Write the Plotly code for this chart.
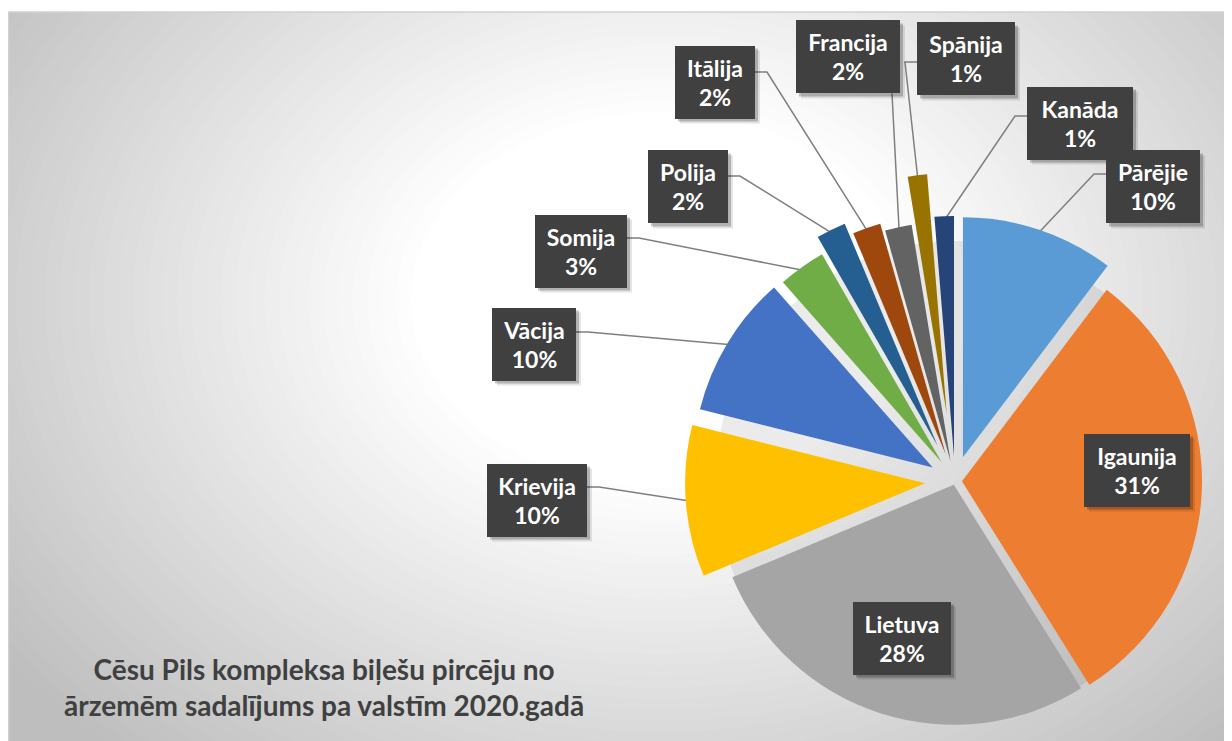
import math
import plotly.graph_objects as go

W, H = 1232, 741
# the page puts the figure 8px in from the top-left corner
OFF = 8

countries = ["Pārējie", "Igaunija", "Lietuva", "Krievija", "Vācija", "Somija",
             "Polija", "Itālija", "Francija", "Spānija", "Kanāda"]
# shares in % (labels show them rounded)
shares = [10.3, 30.8, 27.6, 10.2, 9.6, 3.2, 2.0, 1.9, 1.8, 1.3, 1.3]
colors = ["#5B9BD5", "#ED7D31", "#A5A5A5", "#FFC000", "#4472C4", "#70AD47",
          "#255E91", "#9E480E", "#636363", "#997300", "#264478"]

# how far each slice is pulled out of the pie (px)
explode_px = [25, 7, 4, 30, 26, 23, 40, 28, 20, 68, 25]

title = "Cēsu Pils kompleksa biļešu pircēju no<br>ārzemēm sadalījums pa valstīm 2020.gadā"

# pie centre / radius in screen px
CX, CY, R = 955, 481, 240

# label boxes: centre x, centre y, width, side of leader line, y of leader line
label_boxes = {
    "Pārējie": (1153, 187, 94, "left", 174),
    "Kanāda": (1080, 123, 106, "left", 116),
    "Spānija": (966, 59, 98, "left", 62),
    "Francija": (848, 57, 104, "bottom", None),
    "Itālija": (715, 82, 80, "right", 72),
    "Polija": (688, 187, 80, "right", 176),
    "Somija": (581, 251, 92, "right", 238),
    "Vācija": (534, 344, 84, "right", 332),
    "Krievija": (537, 500, 100, "right", 487),
    "Igaunija": (1137, 470, 106, None, None),
    "Lietuva": (902, 638, 98, None, None),
}
BOX_H = 73
FONT = "Lato, 'Open Sans', sans-serif"


def px(x, y):
    return (x - OFF) / W, 1 - (y - OFF) / H


def domain_at(cx, cy):
    x0, y1 = px(cx - R, cy - R)
    x1, y0 = px(cx + R, cy + R)
    return dict(x=[x0, x1], y=[y0, y1])


n = len(shares)
total = sum(shares)
mids = []
acc = 0
for v in shares:
    mids.append((acc + v / 2) / total * 2 * math.pi)
    acc += v

fig = go.Figure()

# faint shadow of the whole pie (shows in the gaps)
fig.add_trace(go.Pie(
    values=shares, labels=countries, sort=False, direction="clockwise",
    marker=dict(colors=["rgba(0,0,0,0.08)"] * n, line=dict(width=0)),
    textinfo="none", hoverinfo="skip", showlegend=False,
    domain=domain_at(CX, CY),
))

# one trace per slice so every slice can be pulled out on its own
for i in range(n):
    dx = explode_px[i] * math.sin(mids[i])
    dy = -explode_px[i] * math.cos(mids[i])
    cols = [colors[i] if j == i else "rgba(0,0,0,0)" for j in range(n)]
    fig.add_trace(go.Pie(
        values=shares, labels=countries, sort=False, direction="clockwise",
        marker=dict(colors=cols, line=dict(width=0)),
        textinfo="none", hoverinfo="skip", showlegend=False,
        domain=domain_at(CX + dx, CY + dy),
    ))

shapes = []

# radial gradient background
GX, GY, AX, AY = 660, 300, 820, 620
steps = 70
for k in range(steps, 0, -1):
    t = 1.25 * k / steps
    v = 255 if t <= 0.3 else max(190, 255 - 56 * (t - 0.3) / 0.6)
    v = int(round(v))
    x0, y0 = px(GX - t * AX, GY + t * AY)
    x1, y1 = px(GX + t * AX, GY - t * AY)
    shapes.append(dict(type="circle", xref="paper", yref="paper", x0=x0, x1=x1, y0=y0, y1=y1,
                       fillcolor=f"rgb({v},{v},{v})", line=dict(width=0), layer="below"))

# white strip above the chart area + border
top = px(0, 12)[1]
shapes.append(dict(type="rect", xref="paper", yref="paper", x0=0, x1=1, y0=top, y1=1,
                   fillcolor="white", line=dict(width=0), layer="below"))
shapes.append(dict(type="line", xref="paper", yref="paper", x0=0, x1=1, y0=top, y1=top,
                   line=dict(color="#d0d0d0", width=1.5), layer="below"))
shapes.append(dict(type="line", xref="paper", yref="paper", x0=0.0005, x1=0.0005, y0=0, y1=top,
                   line=dict(color="#d0d0d0", width=1.5), layer="below"))

annotations = []
for i, name in enumerate(countries):
    bx, by, bw, side, ay = label_boxes[name]
    pr = explode_px[i] + R - 4
    ex = CX + pr * math.sin(mids[i])
    ey = CY - pr * math.cos(mids[i])
    if side is not None:
        if side == "left":
            a = (bx - bw / 2, ay)
            e = (a[0] - 12, ay)
        elif side == "right":
            a = (bx + bw / 2, ay)
            e = (a[0] + 12, ay)
        else:
            a = (min(ex, bx + bw / 2 - 8), by + BOX_H / 2)
            e = a
        pts = [px(*a), px(*e), px(ex, ey)]
        path = "M " + " L ".join(f"{p[0]},{p[1]}" for p in pts)
        shapes.append(dict(type="path", xref="paper", yref="paper", path=path,
                           line=dict(color="#7f7f7f", width=1.5), layer="below"))

    # box shadow
    for off, alpha in [(5, 0.10), (3, 0.22)]:
        sx0, sy0 = px(bx - bw / 2 + off, by + BOX_H / 2 + off)
        sx1, sy1 = px(bx + bw / 2 + off, by - BOX_H / 2 + off)
        shapes.append(dict(type="rect", xref="paper", yref="paper", x0=sx0, x1=sx1, y0=sy0, y1=sy1,
                           fillcolor=f"rgba(0,0,0,{alpha})", line=dict(width=0), layer="above"))

    pct = round(shares[i] / total * 100)
    ax_, ay_ = px(bx, by)
    annotations.append(dict(
        x=ax_, y=ay_, xref="paper", yref="paper", xanchor="center", yanchor="middle",
        text=f"{name}<br>{pct}%", showarrow=False, align="center", valign="middle",
        width=bw, height=BOX_H, bgcolor="#404040", borderpad=0, borderwidth=0,
        font=dict(family=FONT, size=23, color="white", weight="bold"),
    ))

tx, ty = px(324, 687)
annotations.append(dict(
    x=tx, y=ty, xref="paper", yref="paper", xanchor="center", yanchor="middle",
    text=title, showarrow=False, align="center",
    font=dict(family=FONT, size=28, color="#404040", weight="bold"),
))

fig.update_layout(
    width=W, height=H,
    margin=dict(l=0, r=0, t=0, b=0),
    paper_bgcolor="white",
    plot_bgcolor="white",
    showlegend=False,
    shapes=shapes,
    annotations=annotations,
)

fig.write_html("out.html")
